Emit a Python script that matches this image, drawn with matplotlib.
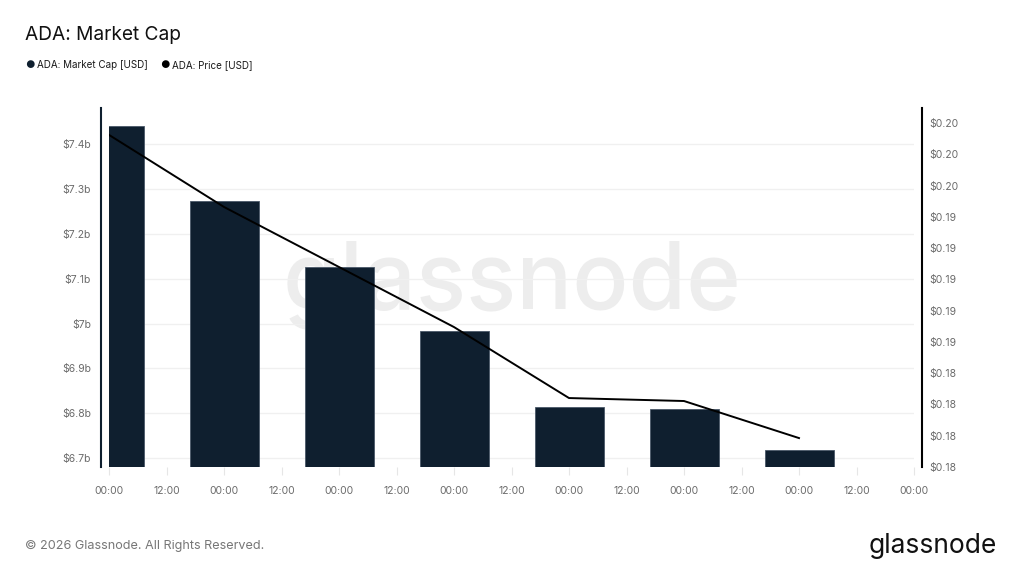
import numpy as np
import matplotlib.pyplot as plt
from matplotlib.ticker import FuncFormatter, MultipleLocator

plt.rcParams['font.family'] = ['Inter', 'DejaVu Sans']

# data (days from first 00:00)
days = [0, 1, 2, 3, 4, 5, 6]
market_cap_b = [7.441, 7.272, 7.126, 6.984, 6.814, 6.809, 6.719]
price_usd = [0.19924, 0.19463, 0.19079, 0.18695, 0.18241, 0.18222, 0.17985]
x_tick_labels = ["00:00", "12:00"] * 7 + ["00:00"]

bar_color = "#0f1f2f"
grey_text = "#6b6b6b"

fig = plt.figure(figsize=(10.24, 5.76), dpi=100)
ax = fig.add_axes([109 / 1024, 1 - 467 / 576, (914 - 109) / 1024, (467 - 108) / 576])
ax2 = ax.twinx()

# watermark
fig.text(0.5, 0.505, "glassnode", fontsize=67, color="#ededed", ha="center", va="center",
         zorder=0, fontweight="medium")
ax.set_zorder(2)
ax2.set_zorder(3)
ax.patch.set_visible(False)
ax2.patch.set_visible(False)

ax.bar(days, market_cap_b, width=0.6, color=bar_color, edgecolor="#4a5868", linewidth=0.6, zorder=3)
ax2.plot(days, price_usd, color="black", linewidth=1.4, zorder=4)

ax.set_xlim(0, 7)
ax.set_ylim(6.6806, 7.4802)
ax2.set_ylim(0.178, 0.20096)

ax.yaxis.set_major_locator(MultipleLocator(0.1))
ax.yaxis.set_major_formatter(FuncFormatter(lambda v, p: f"${round(v, 1):g}b"))
ax2.set_yticks(np.arange(0.178, 0.2001, 0.002))
ax2.yaxis.set_major_formatter(FuncFormatter(lambda v, p: f"${v:.2f}"))

ax.set_xticks(np.arange(0, 7.01, 0.5))
ax.set_xticklabels(x_tick_labels)

ax.grid(axis="y", color="#f0f0f0", linewidth=1, zorder=0)
ax.set_axisbelow(True)

for a in (ax, ax2):
    for s in ("top", "bottom"):
        a.spines[s].set_visible(False)
ax.spines["right"].set_visible(False)
ax2.spines["left"].set_visible(False)
ax.spines["left"].set_position(("outward", 6))
ax.spines["left"].set_color(bar_color)
ax.spines["left"].set_linewidth(1.5)
ax2.spines["right"].set_position(("outward", 6))
ax2.spines["right"].set_color("black")
ax2.spines["right"].set_linewidth(1.5)

ax.tick_params(axis="y", length=0, pad=7, labelsize=7.5, labelcolor=grey_text)
ax2.tick_params(axis="y", length=0, pad=5, labelsize=7.5, labelcolor=grey_text)
ax.tick_params(axis="x", length=6, color="#e6e6e6", pad=8, labelsize=7.5, labelcolor=grey_text)

# title, legend, footer
fig.text(25 / 1024, 1 - 35 / 576, "ADA: Market Cap", fontsize=13.8, color="#111111", va="center")
fig.text(25 / 1024, 1 - 65 / 576, "●", fontsize=7.5, color=bar_color, va="center")
fig.text(37 / 1024, 1 - 65 / 576, "ADA: Market Cap [USD]", fontsize=7.1, color="#1a1a1a", va="center")
fig.text(160 / 1024, 1 - 65 / 576, "●", fontsize=7.5, color="black", va="center")
fig.text(172 / 1024, 1 - 65 / 576, "ADA: Price [USD]", fontsize=7.1, color="#1a1a1a", va="center")
fig.text(25 / 1024, 1 - 546 / 576, "© 2026 Glassnode. All Rights Reserved.", fontsize=9.1,
         color="#777777", va="center")
fig.text(997 / 1024, 1 - 546 / 576, "glassnode", fontsize=19, color="#111111", va="center",
         ha="right")

fig.savefig("out.png", dpi=100)
